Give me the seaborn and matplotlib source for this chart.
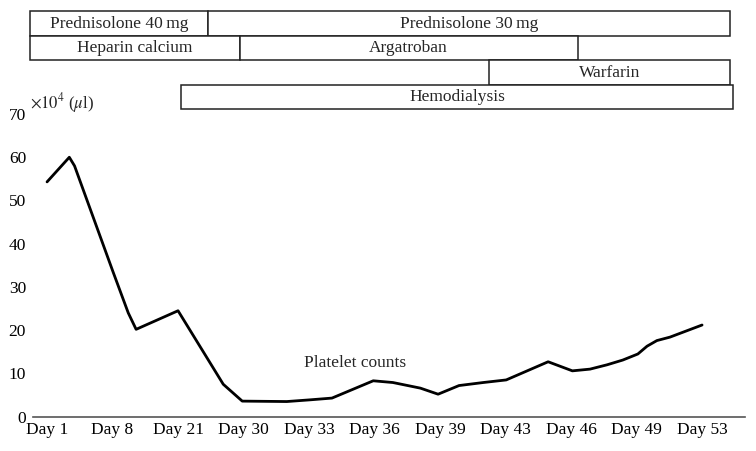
import matplotlib
matplotlib.use('Agg')
import matplotlib.pyplot as plt
import seaborn as sns
import pandas as pd
from matplotlib.patches import Rectangle

day_labels = ['Day 1', 'Day 8', 'Day 21', 'Day 30', 'Day 33', 'Day 36',
              'Day 39', 'Day 43', 'Day 46', 'Day 49', 'Day 53']

# position along the tick axis (tick index units) and platelet counts (x10^4 /ul)
pos = [0.0, 0.34, 0.42, 1.01, 1.24, 1.36, 2.0, 2.69, 2.98, 3.66, 4.02, 4.35,
       4.98, 5.28, 5.70, 5.97, 6.29, 6.66, 7.01, 7.65, 8.02, 8.29, 8.55,
       8.79, 9.02, 9.16, 9.31, 9.51, 10.0]
platelets = [54.3, 60.0, 58.0, 33.4, 24.0, 20.2, 24.5, 7.5, 3.6, 3.5, 3.9, 4.3,
             8.3, 7.9, 6.6, 5.2, 7.2, 7.9, 8.5, 12.7, 10.6, 11.0, 12.0,
             13.1, 14.5, 16.3, 17.6, 18.4, 21.2]

# treatment periods: name, row, start, end (tick index units)
treat_names = ['Prednisolone 40\u2009mg', 'Prednisolone 30\u2009mg', 'Heparin calcium',
               'Argatroban', 'Warfarin', 'Hemodialysis']
treat_rows = [0, 0, 1, 1, 2, 3]
treat_start = [-0.26, 2.45, -0.26, 2.94, 6.74, 2.05]
treat_end = [2.45, 10.43, 2.94, 8.10, 10.43, 10.47]

sns.set_style('white')
plt.rcParams['font.family'] = ['Liberation Serif', 'DejaVu Serif']
plt.rcParams['mathtext.fontset'] = 'stix'

df = pd.DataFrame({'pos': pos, 'platelets': platelets})

fig = plt.figure(figsize=(7.56, 4.51), dpi=100)
ax = fig.add_axes([0.0437, 0.0761, 0.9418, 0.6711])
top = fig.add_axes([0.0437, 0.7561, 0.9418, 0.2202], sharex=ax)

sns.lineplot(data=df, x='pos', y='platelets', ax=ax, color='black',
             linewidth=2, sort=False)
ax.set_xlim(-0.2137, 10.656)
ax.set_ylim(0, 70)
ax.set_xticks(range(len(day_labels)))
ax.set_xticklabels(day_labels)
ax.set_yticks(range(0, 71, 10))
ax.tick_params(axis='both', length=0, labelsize=12.5, colors='black')
ax.tick_params(axis='y', pad=5)
ax.tick_params(axis='x', pad=4)
ax.set_xlabel('')
ax.set_ylabel('')
for s in ['top', 'right', 'left']:
    ax.spines[s].set_visible(False)
ax.spines['bottom'].set_color('#555555')
ax.spines['bottom'].set_linewidth(1.2)

ax.text(4.70, 12.3, 'Platelet counts', ha='center', va='center', fontsize=12.5)
ax.text(-0.26, 72.6, r'$\times10^4$ ($\mu$l)', ha='left', va='center',
        fontsize=12, clip_on=False)

top.set_ylim(4.03, -0.03)
for name, r, x0, x1 in zip(treat_names, treat_rows, treat_start, treat_end):
    top.add_patch(Rectangle((x0, r), x1 - x0, 1, facecolor='white',
                            edgecolor='#222222', linewidth=1.1, clip_on=False))
    top.text((x0 + x1) / 2, r + 0.5, name, ha='center', va='center', fontsize=12.5)
top.axis('off')

fig.savefig('out.png', dpi=100)
